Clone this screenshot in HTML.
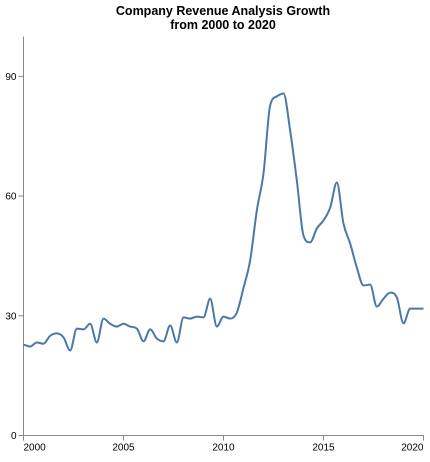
<!DOCTYPE html>
<html><head><meta charset="utf-8"><style>
body{margin:0;background:#fff;font-family:"Liberation Sans",Arial,sans-serif}
svg text{font-family:"Liberation Sans",Arial,sans-serif}
</style></head><body>
<svg id="chart" width="430" height="457" viewBox="0 0 430 457">
<text x="223" y="15" text-anchor="middle" font-size="12.5" font-weight="bold">Company Revenue Analysis Growth</text>
<text x="223" y="29" text-anchor="middle" font-size="12.5" font-weight="bold">from 2000 to 2020</text>
<g id="axes"></g>
<path id="line" fill="none" stroke="#4c78a8" stroke-width="2"/>
</svg>
<script>
const values=[22.8,22.3,23.3,23,25,25.6,24.6,21.3,26.8,26.6,28,23.3,29.3,28,27.3,28,27.3,26.8,23.6,26.6,24.3,23.6,27.6,23.3,29.6,29.3,29.8,29.6,34.3,27.3,29.8,29.3,30.8,37,43.9,56.4,65.7,82.7,85,85.7,76.4,63.9,50.1,48.4,51.9,53.9,57.1,63.4,53.1,48.1,42.1,37.6,37.8,32.3,34.3,35.8,34.6,28.1,31.8,31.8,31.8];
const xTicks=[2000,2005,2010,2015,2020];
const yTicks=[0,30,60,90];
const startYear=2000,endYear=2020,yMax=100;
const X0=23.5,X1=423.5,Y0=435.5,Y1=36.5;
const sx=v=>X0+(v-startYear)/(endYear-startYear)*(X1-X0);
const sy=v=>Y0-v/yMax*(Y0-Y1);
const NS="http://www.w3.org/2000/svg";
const ax=document.getElementById('axes');
function mk(t,a){const e=document.createElementNS(NS,t);for(const k in a)e.setAttribute(k,a[k]);ax.appendChild(e);return e;}
const yl=mk('line',{x1:X0,x2:X0,y1:Y1,y2:Y0,stroke:'#888'});


const xl=mk('line',{x1:X0,x2:X1,y1:Y0,y2:Y0,stroke:'#888'});


yTicks.forEach(v=>{
 const y=sy(v);
 const t=mk('line',{x1:X0-5,x2:X0,y1:y,y2:y,stroke:'#888'});
 
 
 const l=mk('text',{x:X0-7,y:y+3.5,'text-anchor':'end','font-size':10,fill:'#000'});
 l.textContent=v;
 
 
});
xTicks.forEach((v,i)=>{
 const x=sx(v);
 const t=mk('line',{x1:x,x2:x,y1:Y0,y2:Y0+5,stroke:'#888'});
 
 
 const anchor=i===0?'start':(i===xTicks.length-1?'end':'middle');
 const l=mk('text',{x:x,y:Y0+15,'text-anchor':anchor,'font-size':10,fill:'#000'});
 l.textContent=v;
 
 
});
const n=values.length;
const pts=values.map((v,i)=>[sx(startYear+i*(endYear-startYear)/(n-1)),sy(v)]);
// monotone X
const d=[],m=[];
for(let i=0;i<n-1;i++)d.push((pts[i+1][1]-pts[i][1])/(pts[i+1][0]-pts[i][0]));
m[0]=d[0];m[n-1]=d[n-2];
for(let i=1;i<n-1;i++){m[i]=(d[i-1]*d[i]<=0)?0:(d[i-1]+d[i])/2;}
for(let i=0;i<n-1;i++){if(d[i]===0){m[i]=m[i+1]=0;continue;}const a=m[i]/d[i],b=m[i+1]/d[i],s=a*a+b*b;if(s>9){const t=3/Math.sqrt(s);m[i]=t*a*d[i];m[i+1]=t*b*d[i];}}
let p='M'+pts[0][0]+','+pts[0][1];
for(let i=0;i<n-1;i++){const h=(pts[i+1][0]-pts[i][0])/3;p+=` C${pts[i][0]+h},${pts[i][1]+m[i]*h} ${pts[i+1][0]-h},${pts[i+1][1]-m[i+1]*h} ${pts[i+1][0]},${pts[i+1][1]}`;}
document.getElementById('line').setAttribute('d',p);
</script>
</body></html>
